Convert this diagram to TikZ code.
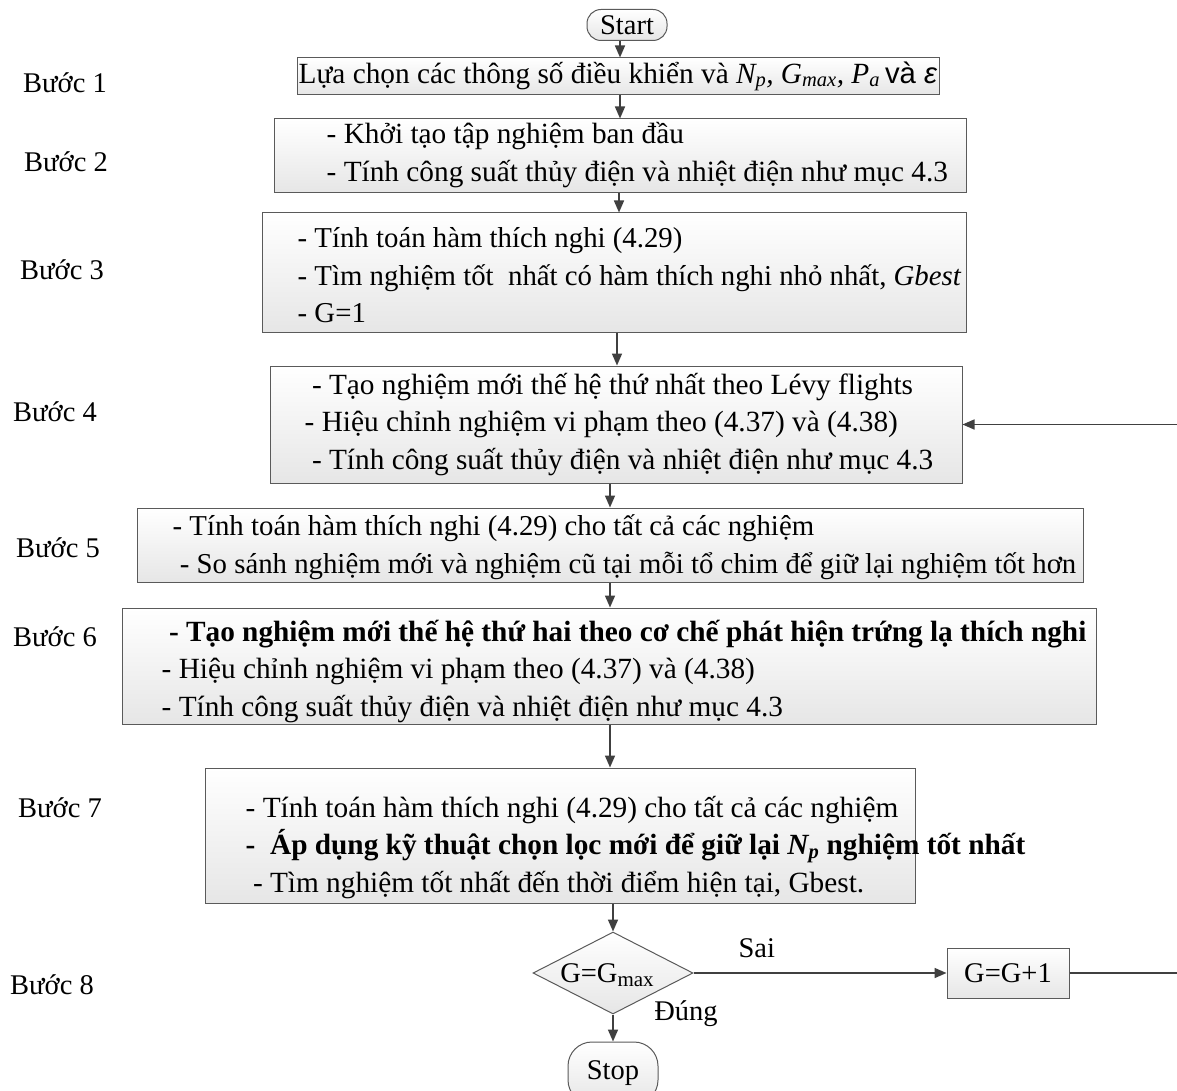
\documentclass[tikz,border=0pt]{standalone}
\usepackage{fontspec}
\setmainfont{Liberation Serif}
\newfontfamily\sansf{Liberation Sans}
\usetikzlibrary{shapes.geometric,arrows.meta}
\definecolor{linec}{HTML}{404040}
\definecolor{boxline}{HTML}{5A5A5A}
\definecolor{boxbot}{HTML}{E6E6E6}
\newcommand\boxfont{\fontsize{29.3}{37.5}\selectfont}
\newcommand\boxfontsm{\fontsize{28.8}{37.5}\selectfont}
\newcommand\lblfont{\fontsize{28.5}{34}\selectfont}
\tikzset{
  box/.style={draw=boxline, line width=1pt, top color=white, bottom color=boxbot, inner sep=0pt},
  txt/.style={font=\boxfont, align=left, inner sep=0pt, text=black},
  lbl/.style={font=\lblfont, inner sep=0pt, text=black},
  arr/.style={draw=linec, line width=1.6pt, -{Triangle[length=12pt,width=10pt]}},
  ln/.style={draw=linec, line width=1.6pt},
  term/.style={draw=boxline, line width=1pt, top color=white, bottom color=boxbot, rounded corners=15pt, inner sep=0pt},
  dec/.style={diamond, draw=boxline, line width=1pt, top color=white, bottom color=boxbot, inner sep=0pt},
}
\begin{document}
\begin{tikzpicture}[x=1pt,y=-1pt]
\useasboundingbox (0,0) rectangle (1177,1091);
\fill[white] (0,0) rectangle (1177,1091);

% step labels
\node[lbl] (s1) at (65,83) {Bước 1};
\node[lbl] (s2) at (66,162) {Bước 2};
\node[lbl] (s3) at (62,270) {Bước 3};
\node[lbl] (s4) at (55,412) {Bước 4};
\node[lbl] (s5) at (58,548) {Bước 5};
\node[lbl] (s6) at (55,637) {Bước 6};
\node[lbl] (s7) at (60,808) {Bước 7};
\node[lbl] (s8) at (52,985) {Bước 8};

% start
\node[term, minimum width=80pt, minimum height=31pt, rounded corners=14pt, font=\lblfont] (start) at (627,25) {Start};

% box 1
\node[box, minimum width=642pt, minimum height=37pt] (b1) at (618,76.5) {};
\node[txt] (t1) at (b1.center) {Lựa chọn các thông số điều khiển và \textit{N\textsubscript{p}, G\textsubscript{max}, P\textsubscript{a}}\,{\sansf và \textit{ε}}};

% box 2
\node[box, minimum width=692pt, minimum height=74pt] (b2) at (620,156) {};
\node[txt, anchor=west] (t2) at ([xshift=53pt,yshift=1pt]b2.west) {- Khởi tạo tập nghiệm ban đầu\\- Tính công suất thủy điện và nhiệt điện như mục 4.3};

% box 3
\node[box, minimum width=704pt, minimum height=119pt] (b3) at (614,272.5) {};
\node[txt, font=\boxfontsm, anchor=west] (t3) at ([xshift=36pt,yshift=-3pt]b3.west) {- Tính toán hàm thích nghi (4.29)\\- Tìm nghiệm tốt \ nhất có hàm thích nghi nhỏ nhất, \textit{Gbest}\\- G=1};

% box 4
\node[box, minimum width=692pt, minimum height=117pt] (b4) at (616,424.5) {};
\node[txt, anchor=west] (t4) at ([xshift=35pt]b4.west) {\ - Tạo nghiệm mới thế hệ thứ nhất theo Lévy flights\\- Hiệu chỉnh nghiệm vi phạm theo (4.37) và (4.38)\\\ - Tính công suất thủy điện và nhiệt điện như mục 4.3};

% box 5
\node[box, minimum width=946pt, minimum height=74pt] (b5) at (610,545) {};
\node[txt, font=\boxfontsm, anchor=west] (t5) at ([xshift=36pt,yshift=-2pt]b5.west) {- Tính toán hàm thích nghi (4.29) cho tất cả các nghiệm\\\ - So sánh nghiệm mới và nghiệm cũ tại mỗi tổ chim để giữ lại nghiệm tốt hơn};

% box 6
\node[box, minimum width=974pt, minimum height=116pt] (b6) at (609,666) {};
\node[txt, anchor=west] (t6) at ([xshift=40pt,yshift=-5pt]b6.west) {\ \textbf{- Tạo nghiệm mới thế hệ thứ hai theo cơ chế phát hiện trứng lạ thích nghi}\\- Hiệu chỉnh nghiệm vi phạm theo (4.37) và (4.38)\\- Tính công suất thủy điện và nhiệt điện như mục 4.3};

% box 7
\node[box, minimum width=710pt, minimum height=135pt] (b7) at (560,835.5) {};
\node[txt, anchor=west] (t7) at ([xshift=41pt,yshift=-12pt]b7.west) {- Tính toán hàm thích nghi (4.29) cho tất cả các nghiệm\\\textbf{- \ Áp dụng kỹ thuật chọn lọc mới để giữ lại \textit{N\textsubscript{p}} nghiệm tốt nhất}\\\ - Tìm nghiệm tốt nhất đến thời điểm hiện tại, Gbest.};

% decision
\node[dec, minimum width=160pt, minimum height=82pt, font=\lblfont] (d) at (613,973) {};
\node[lbl] (dt) at (607,975) {G=G\raisebox{-0.35ex}{\fontsize{21}{21}\selectfont max}};
\node[box, minimum width=122pt, minimum height=50pt, font=\lblfont] (gg) at (1008,973) {G=G+1};

% stop
\node[term, minimum width=90pt, minimum height=62pt, rounded corners=24pt, font=\lblfont] (stop) at (613,1073) {Stop};

% connectors
\draw[arr] (start.south -| 620,0) -- (b1.north -| 620,0);
\draw[arr] (b1.south -| 620,0) -- (b2.north -| 620,0);
\draw[arr] (b2.south -| 619,0) -- (b3.north -| 619,0);
\draw[arr] (b3.south -| 617,0) -- (b4.north -| 617,0);
\draw[arr] (b4.south -| 610,0) -- (b5.north -| 610,0);
\draw[arr] (b5.south -| 610,0) -- (b6.north -| 610,0);
\draw[arr] (b6.south -| 610,0) -- (b7.north -| 610,0);
\draw[arr] (b7.south -| 613,0) -- (d.north);
\draw[arr] (d.south) -- (stop.north);
\draw[arr] (d.east) -- node[lbl, above=14pt, pos=0.25] (sai) {Sai} (gg.west);
\node[lbl] (dung) at (686,1014) {Đúng};
\coordinate (rt) at (1179,973);
\draw[ln] (gg.east) -- (rt);
\draw[arr] (rt) |- (b4.east);
\end{tikzpicture}
\end{document}
